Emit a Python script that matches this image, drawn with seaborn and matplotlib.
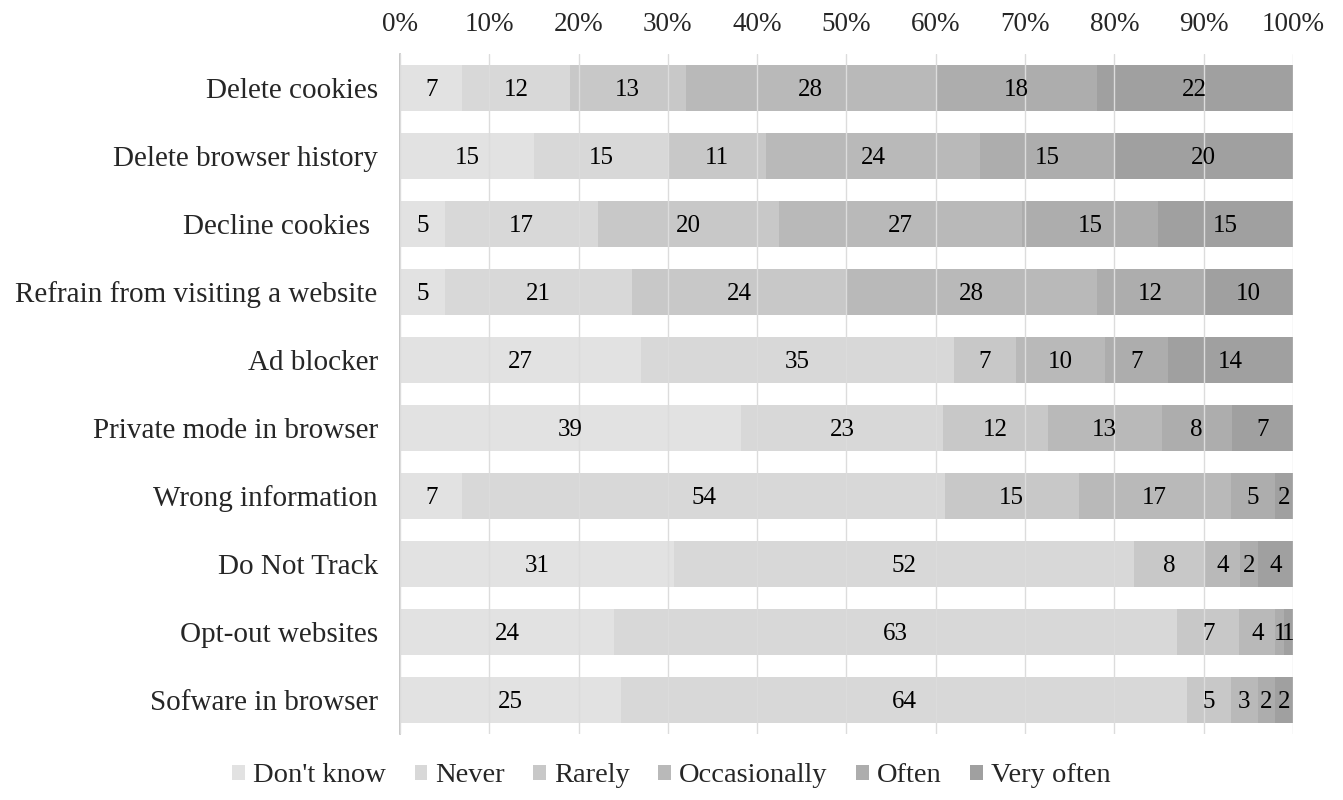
import numpy as np
import pandas as pd
import seaborn as sns
from matplotlib import pyplot as plt
from matplotlib.patches import Patch

categories = ['Delete cookies', 'Delete browser history', 'Decline cookies ',
              'Refrain from visiting a website', 'Ad blocker', 'Private mode in browser',
              'Wrong information', 'Do Not Track', 'Opt-out websites', 'Sofware in browser']
levels = ["Don't know", 'Never', 'Rarely', 'Occasionally', 'Often', 'Very often']

dont_know = [7, 15, 5, 5, 27, 39, 7, 31, 24, 25]
never = [12, 15, 17, 21, 35, 23, 54, 52, 63, 64]
rarely = [13, 11, 20, 24, 7, 12, 15, 8, 7, 5]
occasionally = [28, 24, 27, 28, 10, 13, 17, 4, 4, 3]
often = [18, 15, 15, 12, 7, 8, 5, 2, 1, 2]
very_often = [22, 20, 15, 10, 14, 7, 2, 4, 1, 2]

ticks = list(range(0, 101, 10))
colors = ['#e2e2e2', '#d8d8d8', '#c8c8c8', '#b9b9b9', '#adadad', '#a0a0a0']

sns.set_style('white')
plt.rcParams['font.family'] = ['Liberation Serif', 'DejaVu Serif']

counts = pd.DataFrame({"Don't know": dont_know, 'Never': never, 'Rarely': rarely,
                       'Occasionally': occasionally, 'Often': often, 'Very often': very_often},
                      index=categories)
# 100% stacked: each row scaled to its total
shares = counts.div(counts.sum(axis=1), axis=0) * 100
cum = shares.cumsum(axis=1)

fig = plt.figure(figsize=(13.43, 8), dpi=100)
ax = fig.add_axes([0.2978, 0.0825, 0.665, 0.85])

# draw cumulative bars from the outermost inwards so they stack
for lev, col in reversed(list(zip(levels, colors))):
    sns.barplot(x=cum[lev].values, y=categories, color=col, orient='h', width=0.68,
                saturation=1, errorbar=None, linewidth=0, ax=ax)

for lev in levels:
    starts = cum[lev] - shares[lev]
    for i, cat in enumerate(categories):
        ax.text(starts.iloc[i] + shares[lev].iloc[i] / 2, i, str(counts.loc[cat, lev]),
                ha='center', va='center_baseline', fontsize=18, color='black', zorder=4)

ax.set_xlim(0, 100)
ax.xaxis.tick_top()
ax.set_xticks(ticks)
ax.set_xticklabels([f'{t}%' for t in ticks])
ax.tick_params(axis='x', length=0, labelsize=19.5, pad=12)
ax.tick_params(axis='y', length=0, labelsize=21, pad=16)
ax.set_xlabel('')
ax.set_ylabel('')
ax.grid(axis='x', color='#dcdcdc', linewidth=1)
ax.set_axisbelow(False)
sns.despine(ax=ax, left=False, bottom=True)
ax.spines['left'].set_color('#bfbfbf')
ax.spines['left'].set_linewidth(1.2)

handles = [Patch(facecolor=c, edgecolor='none', label=l) for l, c in zip(levels, colors)]
fig.legend(handles=handles, loc='center', bbox_to_anchor=(0.5, 1 - 776 / 800), ncol=6,
           frameon=False, fontsize=20.5, handlelength=0.45, handleheight=0.45,
           handletextpad=0.28, columnspacing=1.0)

fig.savefig('out.png', dpi=100)
